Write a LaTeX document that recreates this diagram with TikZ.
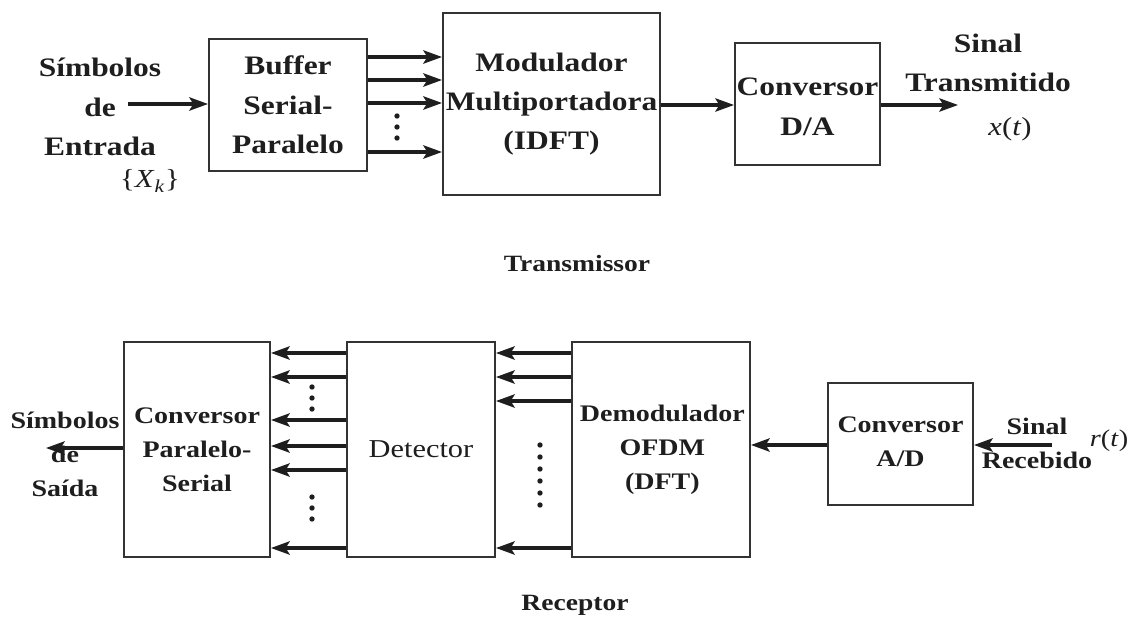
\documentclass[tikz,border=0pt]{standalone}
\usepackage{fontspec}
\setmainfont{Liberation Serif}[FakeStretch=1.18]
\usetikzlibrary{arrows.meta,fit}
\definecolor{ink}{HTML}{1E1E1E}
\definecolor{edge}{HTML}{333333}
\begin{document}
\begin{tikzpicture}[x=0.75pt,y=-0.75pt,
  box/.style={draw=edge,line width=1.5pt,inner sep=0pt},
  arr/.style={draw=ink,line width=2.3pt,-{Stealth[length=14pt,width=10pt,inset=3pt]}},
  tf/.style={text=ink,font=\bfseries\fontsize{20pt}{29.5pt}\selectfont,align=center,inner sep=0pt},
  bf/.style={text=ink,font=\bfseries\fontsize{17.8pt}{25.5pt}\selectfont,align=center,inner sep=0pt},
  captxt/.style={text=ink,font=\bfseries\fontsize{17.5pt}{20pt}\selectfont,inner sep=0pt},
  dotc/.style={fill=ink}
]
\useasboundingbox (0,0) rectangle (1138,617);
\fill[white] (0,0) rectangle (1138,617);

% ---------- Transmitter ----------
\node[box, fit={(209,39) (367,171)}] (buf) {};
\node[tf] (buft) at (buf.center) {Buffer\\Serial-\\Paralelo};
\node[box, fit={(443,13) (660,195)}] (mod) {};
\node[tf] (modt) at (mod.center) {Modulador\\Multiportadora\\(IDFT)};
\node[box, fit={(735,43) (880,165)}] (da) {};
\node[tf] (dat) at ([yshift=-2pt]da.center) {Conversor\\D/A};

\node[tf] (inlbl) at (100,107) {Símbolos\\de\\Entrada};
\node[text=ink,font=\fontsize{19.5pt}{22pt}\selectfont,inner sep=0pt] (xk) at (150,181) {\{\textit{X}\textsubscript{\textit{k}}\}};
\coordinate (inS) at (128,104);
\draw[arr] (inS) -- (buf.west |- inS);

\coordinate (ya) at (0,57);
\coordinate (yb) at (0,80);
\coordinate (yc) at (0,103);
\coordinate (yd) at (0,152);
\foreach \c in {ya,yb,yc,yd} \draw[arr] (buf.east |- \c) -- (mod.west |- \c);
\foreach \yy in {116,127,138} \fill[dotc] (397,\yy) circle (2pt);

\coordinate (ye) at (0,105);
\draw[arr] (mod.east |- ye) -- (da.west |- ye);
\coordinate (outT) at (958,105);
\draw[arr] (da.east |- outT) -- (outT);
\node[tf] (sinT) at (988,63) {Sinal\\Transmitido};
\node[text=ink,font=\fontsize{19.5pt}{22pt}\selectfont,inner sep=0pt] (xt) at (1010,129) {\textit{x}(\textit{t})};

\node[captxt] (tx) at (577,264) {Transmissor};

% ---------- Receiver ----------
\node[box, fit={(124,342) (270,557)}] (ps) {};
\node[bf] (pst) at (ps.center) {Conversor\\Paralelo-\\Serial};
\node[box, fit={(347,342) (495,557)}] (det) {};
\node[text=ink,font=\fontsize{19.3pt}{22pt}\selectfont,inner sep=0pt] (dett) at (det.center) {Detector};
\node[box, fit={(572,342) (750,557)}] (dem) {};
\node[bf] (demt) at ([xshift=1pt]dem.center) {Demodulador\\OFDM\\(DFT)};
\node[box, fit={(828,383) (973,505)}] (ad) {};
\node[bf] (adt) at ([yshift=2pt]ad.center) {Conversor\\A/D};

\foreach \yy [count=\i] in {353,377,420,446,470,548} {
  \coordinate (p\i) at (0,\yy);
  \draw[arr] (det.west |- p\i) -- (ps.east |- p\i);
}
\foreach \yy in {387,398,409,497,508,519} \fill[dotc] (312,\yy) circle (2pt);

\foreach \yy [count=\i] in {353,377,401,548} {
  \coordinate (q\i) at (0,\yy);
  \draw[arr] (dem.west |- q\i) -- (det.east |- q\i);
}
\foreach \yy in {445,457,469,481,493,505} \fill[dotc] (540,\yy) circle (2pt);

\coordinate (yr) at (0,445);
\draw[arr] (ad.west |- yr) -- (dem.east |- yr);
\coordinate (inR) at (1052,445);
\draw[arr] (inR) -- (ad.east |- inR);
\node[bf] (sinR) at (1037,443) {Sinal\\Recebido};
\node[text=ink,font=\fontsize{18pt}{22pt}\selectfont,inner sep=0pt] (rt) at (1109,441) {\textit{r}(\textit{t})};

\coordinate (outR) at (46,448);
\draw[arr] (ps.west |- outR) -- (outR);
\node[bf] (outlbl) at (65,454) {Símbolos\\de\\Saída};

\node[captxt] (rx) at (575,605) {Receptor};
\end{tikzpicture}
\end{document}
